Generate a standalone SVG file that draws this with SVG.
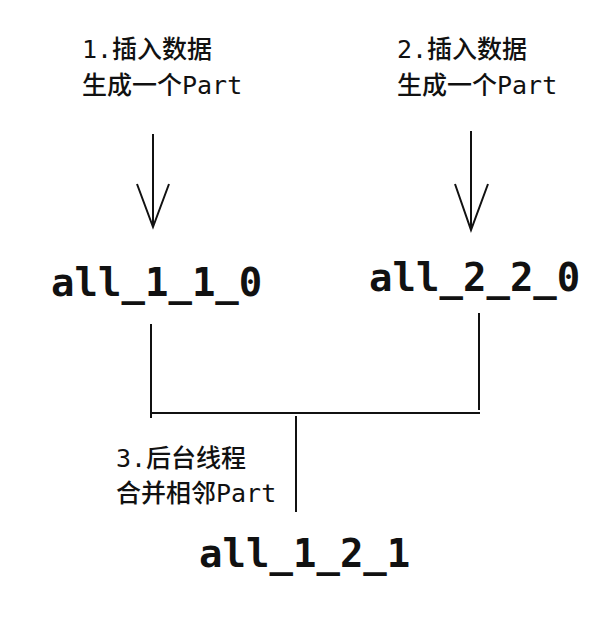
<svg xmlns="http://www.w3.org/2000/svg" width="610" height="626" viewBox="0 0 610 626">
<style>
.s{font-family:"DejaVu Sans Mono","Noto Sans CJK SC",monospace;font-size:25px;font-weight:500;fill:#111}
.b{font-family:"DejaVu Sans Mono",monospace;font-size:39px;font-weight:bold;fill:#111}
.l{stroke:#111;stroke-width:2;fill:none}
</style>
<rect width="610" height="626" fill="#fff"/>
<g id="step1"><text class="s" x="82" y="58">1.插入数据</text><text class="s" x="82" y="94">生成一个Part</text></g>
<g id="step2"><text class="s" x="397" y="58">2.插入数据</text><text class="s" x="397" y="94">生成一个Part</text></g>
<g id="part1"><text class="b" x="51" y="296">all_1_1_0</text></g>
<g id="part2"><text class="b" x="369" y="291">all_2_2_0</text></g>
<g id="step3"><text class="s" x="116" y="467">3.后台线程</text><text class="s" x="116" y="502">合并相邻Part</text></g>
<g id="merged"><text class="b" x="199" y="567">all_1_2_1</text></g>
<g id="connectors">
<path class="l" d="M153 134V227M137 184L153 227L169 184"/>
<path class="l" d="M471 131V230M455 184L471 230L488 184"/>
<path class="l" d="M151 324V418M479 313V410M152 413H480M296 416V512"/>
</g>
</svg>
